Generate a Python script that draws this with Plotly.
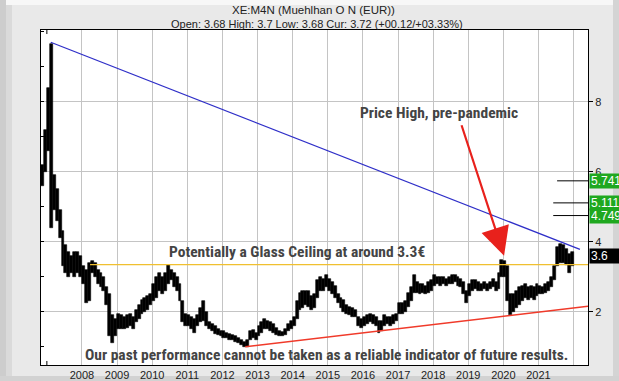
import plotly.graph_objects as go

# ---------------- data ----------------
start_year, start_month = 2006, 11   # first monthly bar

price_low = [
    5.6, 6.0,                                                            # 2006 Nov-Dec
    6.6, 4.4, 4.9, 4.6, 4.1, 3.3, 3.1, 3.0, 3.1, 3.0, 3.1, 3.0,          # 2007
    2.8, 2.25, 2.3, 3.1, 3.0, 2.8, 2.7, 2.6, 2.2, 1.3, 1.1, 1.3,         # 2008
    1.5, 1.5, 1.5, 1.55, 1.6, 1.5, 1.7, 1.8, 1.95, 2.0, 2.05, 2.2,       # 2009
    2.3, 2.4, 2.6, 2.5, 2.6, 2.8, 2.9, 2.7, 2.6, 2.3, 1.7, 1.6,          # 2010
    1.6, 1.5, 1.4, 1.6, 1.7, 1.75, 1.6, 1.5, 1.45, 1.38, 1.35, 1.3,      # 2011
    1.25, 1.25, 1.2, 1.2, 1.15, 1.1, 1.05, 1.0, 1.0, 1.2, 1.25, 1.2,     # 2012
    1.3, 1.4, 1.5, 1.5, 1.45, 1.4, 1.35, 1.3, 1.3, 1.35, 1.45, 1.5,      # 2013
    1.6, 1.8, 2.05, 2.1, 2.2, 2.15, 2.05, 2.1, 2.4, 2.6, 2.6, 2.7,       # 2014
    2.6, 2.5, 2.4, 2.25, 2.1, 2.0, 1.95, 1.9, 1.85, 1.85, 1.6, 1.55,     # 2015
    1.6, 1.65, 1.7, 1.65, 1.6, 1.4, 1.45, 1.6, 1.65, 1.6, 1.65, 1.75,    # 2016
    1.95, 1.95, 2.0, 2.15, 2.3, 2.55, 2.55, 2.5, 2.55, 2.5, 2.55, 2.6,   # 2017
    2.75, 2.8, 2.75, 2.8, 2.75, 2.8, 2.8, 2.85, 2.75, 2.7, 2.5, 2.25,    # 2018
    2.45, 2.6, 2.65, 2.6, 2.6, 2.65, 2.6, 2.65, 2.7, 2.6, 2.65, 3.0,     # 2019
    3.0, 2.3, 1.9, 2.0, 2.1, 2.2, 2.3, 2.4, 2.35, 2.4, 2.35, 2.45,       # 2020
    2.5, 2.5, 2.55, 2.6, 2.7, 2.9, 3.3, 3.4, 3.4, 3.35, 3.1, 3.3,        # 2021
]
price_high = [
    6.2, 7.2,                                                            # 2006 Nov-Dec
    8.4, 9.65, 5.9, 5.5, 4.9, 4.3, 3.9, 3.7, 3.6, 3.7, 3.7, 3.6,         # 2007
    3.3, 3.2, 3.4, 3.45, 3.4, 3.2, 3.1, 3.0, 2.7, 2.5, 1.9, 1.8,         # 2008
    1.95, 1.9, 1.85, 1.9, 1.95, 1.85, 2.05, 2.2, 2.35, 2.4, 2.45, 2.5,   # 2009
    2.8, 3.0, 3.1, 3.0, 3.1, 3.33, 3.2, 3.1, 3.0, 2.8, 2.3, 1.95,        # 2010
    1.9, 1.85, 1.8, 1.9, 2.1, 2.3, 2.0, 1.7, 1.65, 1.6, 1.5, 1.45,       # 2011
    1.45, 1.4, 1.38, 1.35, 1.3, 1.25, 1.2, 1.15, 1.2, 1.45, 1.48, 1.4,   # 2012
    1.6, 1.7, 1.8, 1.75, 1.7, 1.65, 1.55, 1.45, 1.43, 1.5, 1.65, 1.75,   # 2013
    1.85, 2.3, 2.55, 2.6, 2.6, 2.6, 2.45, 2.5, 2.9, 3.0, 2.95, 3.05,     # 2014
    2.95, 2.85, 2.75, 2.5, 2.4, 2.35, 2.2, 2.15, 2.1, 2.05, 1.85, 1.8,   # 2015
    1.85, 1.9, 1.95, 1.9, 1.85, 1.75, 1.75, 1.9, 1.85, 1.85, 1.9, 1.95,  # 2016
    2.25, 2.25, 2.3, 2.55, 2.7, 3.05, 2.85, 2.8, 2.8, 2.75, 2.85, 2.9,   # 2017
    3.05, 3.0, 3.0, 3.0, 2.95, 3.0, 3.05, 3.05, 3.0, 2.95, 2.85, 2.6,    # 2018
    2.8, 2.9, 2.9, 2.85, 2.8, 2.85, 2.8, 2.85, 2.95, 2.85, 3.1, 3.48,    # 2019
    3.45, 3.3, 2.5, 2.5, 2.6, 2.7, 2.75, 2.8, 2.7, 2.75, 2.7, 2.8,       # 2020
    2.75, 2.7, 2.8, 2.85, 3.0, 3.3, 3.85, 3.95, 3.9, 3.8, 3.65, 3.7,     # 2021
]

year_ticks = [2008, 2009, 2010, 2011, 2012, 2013, 2014, 2015, 2016, 2017,
              2018, 2019, 2020, 2021, 2022]
year_labels = ["2008", "2009", "2010", "2011", "2012", "2013", "2014", "2015",
               "2016", "2017", "2018", "2019", "2020", "2021", ""]
price_ticks = [2, 4, 6, 8]

downtrend_x = [2007.11, 2022.18]
downtrend_y = [9.70, 3.78]
uptrend_x = [2012.65, 2022.41]
uptrend_y = [1.00, 2.16]
ceiling_x = [2008.23, 2022.41]
ceiling_y = [3.35, 3.35]

target_levels = [5.741, 5.111, 4.749]
target_labels = ["5.741", "5.111", "4.749"]
target_start = [2021.53, 2021.42, 2021.42]
last_price = 3.6

title_text = "XE:M4N (Muehlhan O N (EUR))"
subtitle_text = "Open: 3.68 High: 3.7 Low: 3.68 Cur: 3.72 (+00.12/+03.33%)"

# month positions (decimal years) for the monthly range bars
month_pos = []
for i in range(len(price_low)):
    m = start_month - 1 + i
    month_pos.append(start_year + (m // 12) + ((m % 12) + 0.5) / 12.0)
bar_len = [h - l for h, l in zip(price_high, price_low)]

W, H = 619, 381
L, R, T, B = 41, 31, 30, 16
X0, X1 = 2006.833, 2022.41
Y0, Y1 = 0.48, 10.05


def pxx(x):
    return (x - L) / (W - L - R)


def pxy(y):
    return (H - B - y) / (H - T - B)


BOLD = "Roboto Condensed, Liberation Sans Narrow, Arial Narrow, Liberation Sans, sans-serif"
REG = "Liberation Sans, Arial, sans-serif"

fig = go.Figure()
fig.add_trace(go.Bar(x=month_pos, y=bar_len, base=price_low, width=1 / 12,
                     marker=dict(color="black", line=dict(width=0.6, color="black")),
                     hoverinfo="skip", showlegend=False))
fig.add_trace(go.Scatter(x=downtrend_x, y=downtrend_y, mode="lines",
                         line=dict(color="#2f2fc8", width=1.3), showlegend=False))
fig.add_trace(go.Scatter(x=uptrend_x, y=uptrend_y, mode="lines",
                         line=dict(color="#f03a2a", width=1.5), showlegend=False))
fig.add_trace(go.Scatter(x=ceiling_x, y=ceiling_y, mode="lines",
                         line=dict(color="#f0c030", width=1.3), showlegend=False))
fig.add_trace(go.Scatter(x=[X0], y=[Y0], mode="markers", marker=dict(opacity=0),
                         yaxis="y2", showlegend=False, hoverinfo="skip"))

# bevelled outer frame
bevel = [
    (0, 0, W, 5, "#f7f7f7"),
    (0, 0, 6, H, "#cdcdcd"),
    (6, 5, 12, H - 5, "#dadada"),
    (W - 6, 0, W, H, "#d4d4d4"),
    (0, H - 5, W, H, "#d2d2d2"),
]
for x0, y0, x1, y1, c in bevel:
    fig.add_shape(type="rect", xref="paper", yref="paper", layer="below",
                  x0=pxx(x0), x1=pxx(x1), y0=pxy(y1), y1=pxy(y0),
                  line=dict(width=0), fillcolor=c)

for lvl, xs in zip(target_levels, target_start):
    fig.add_shape(type="line", xref="x", yref="y", x0=xs, x1=X1, y0=lvl, y1=lvl,
                  line=dict(color="black", width=1))

for yy in (0, 1):
    fig.add_shape(type="line", xref="x", yref="paper", x0=2007, x1=2007,
                  y0=yy, y1=yy + (0.012 if yy == 0 else -0.012),
                  line=dict(color="black", width=1))

ann = []
ann.append(dict(text=title_text, xref="paper", yref="paper",
                x=pxx(313), y=pxy(10), xanchor="center", yanchor="middle", showarrow=False,
                font=dict(family=REG, size=11.5, color="#222")))
ann.append(dict(text=subtitle_text, xref="paper", yref="paper",
                x=pxx(317), y=pxy(24), xanchor="center", yanchor="middle", showarrow=False,
                font=dict(family=REG, size=11, color="#222")))
ann.append(dict(text="<b>Potentially a Glass Ceiling at around 3.3€</b>", x=2014.11, y=3.71,
                xanchor="center", yanchor="middle",
                showarrow=False, font=dict(family=BOLD, size=15.5, color="#444")))
ann.append(dict(text="<b>Price High, pre-pandemic</b>", x=2018.16, y=7.68,
                xanchor="center", yanchor="middle",
                showarrow=False, font=dict(family=BOLD, size=15.5, color="#444")))
ann.append(dict(text="<b>Our past performance cannot be taken as a reliable indicator of future results.</b>",
                x=2014.95, y=0.76, xanchor="center", yanchor="middle", showarrow=False,
                font=dict(family=BOLD, size=15.5, color="#444")))
ann.append(dict(text="", x=2020.02, y=3.6, ax=-43, ay=-132, showarrow=True,
                arrowhead=2, arrowsize=2.6, arrowwidth=2.2, arrowcolor="#e8211c"))
for lvl, lab in zip(target_levels, target_labels):
    ann.append(dict(text=lab, xref="paper", yref="y", x=pxx(589), y=lvl,
                    xanchor="left", yanchor="middle", showarrow=False, align="left",
                    width=36, height=12, bgcolor="#1fa81f", borderpad=1,
                    font=dict(family=REG, size=12, color="white")))
ann.append(dict(text="3.6", xref="paper", yref="y", x=pxx(589), y=last_price,
                xanchor="left", yanchor="middle", showarrow=False, align="left",
                width=36, height=12, bgcolor="black", borderpad=1,
                font=dict(family=REG, size=12, color="white")))

fig.update_layout(
    width=W, height=H, autosize=False,
    margin=dict(l=L, r=R, t=T, b=B),
    paper_bgcolor="#e9e9e9", plot_bgcolor="white",
    showlegend=False, bargap=0,
    annotations=ann,
    xaxis=dict(range=[X0, X1], tickvals=year_ticks, ticktext=year_labels,
               showgrid=True, gridcolor="#c4c4c4", gridwidth=1, automargin=False,
               ticks="", showline=True, linecolor="black", linewidth=1, mirror=True,
               zeroline=False, tickfont=dict(family=REG, size=11, color="#222")),
    yaxis=dict(range=[Y0, Y1], side="right", tickvals=price_ticks, automargin=False,
               showgrid=True, gridcolor="#c4c4c4", gridwidth=1,
               ticks="outside", ticklen=4, tickcolor="black",
               showline=True, linecolor="black", linewidth=1, mirror=True,
               zeroline=False, tickfont=dict(family=REG, size=11, color="#222")),
    yaxis2=dict(range=[Y0, Y1], overlaying="y", side="left", dtick=1, tick0=0,
                ticks="inside", ticklen=3, tickcolor="black", showgrid=False,
                automargin=False,
                showticklabels=False, zeroline=False, showline=False),
)

fig.write_html("out.html", config={"displayModeBar": False},
               post_script="document.body.style.margin='0';document.body.style.overflow='hidden';")
